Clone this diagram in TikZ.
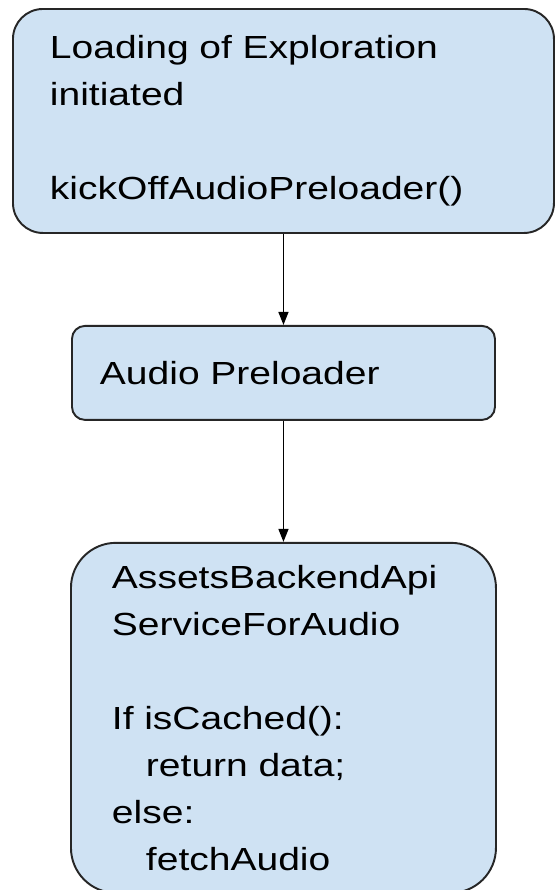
\documentclass[tikz,border=0pt]{standalone}
\usepackage{fontspec}
\setmainfont[FakeStretch=1.22]{Liberation Sans}
\usetikzlibrary{positioning,arrows.meta}
\definecolor{BoxFill}{HTML}{CFE2F3}
\definecolor{BoxLine}{HTML}{262626}

\tikzset{
    flowbox/.style={draw=BoxLine, fill=BoxFill, line width=1.1pt, align=left,
        inner xsep=0pt, inner ysep=0pt,
        font=\fontsize{18.2}{26.7}\selectfont},
    flowarrow/.style={draw=black, line width=0.8pt, -{Triangle[width=0.2cm,length=0.26cm]}},
}

\begin{document}
\begin{tikzpicture}
    \useasboundingbox (0,0) rectangle (11.1,-17.8);
    \fill[white] (0,0) rectangle (11.1,-17.8);

    % top box: exploration load
    \node[flowbox, anchor=north west, rounded corners=0.6cm,
          minimum width=10.82cm, minimum height=4.48cm, text width=9.34cm]
        (load) at (0.24,-0.16)
        {Loading of Exploration\\initiated\\[26.7pt]kickOffAudioPreloader()};

    % middle box
    \node[flowbox, below=1.82cm of load, rounded corners=0.26cm,
          minimum width=8.46cm, minimum height=1.88cm, text width=7.34cm]
        (preload) {Audio Preloader};

    % bottom box: backend service
    \node[flowbox, below=2.42cm of preload, rounded corners=0.9cm,
          minimum width=8.5cm, minimum height=7cm, text width=6.86cm]
        (assets) {AssetsBackendApi\\ServiceForAudio\\[26.7pt]If isCached():\\
                  \hspace*{0.68cm}return data;\\else:\\\hspace*{0.68cm}fetchAudio};

    \draw[flowarrow] (load) -- (preload);
    \draw[flowarrow] (preload) -- (assets);
\end{tikzpicture}
\end{document}
